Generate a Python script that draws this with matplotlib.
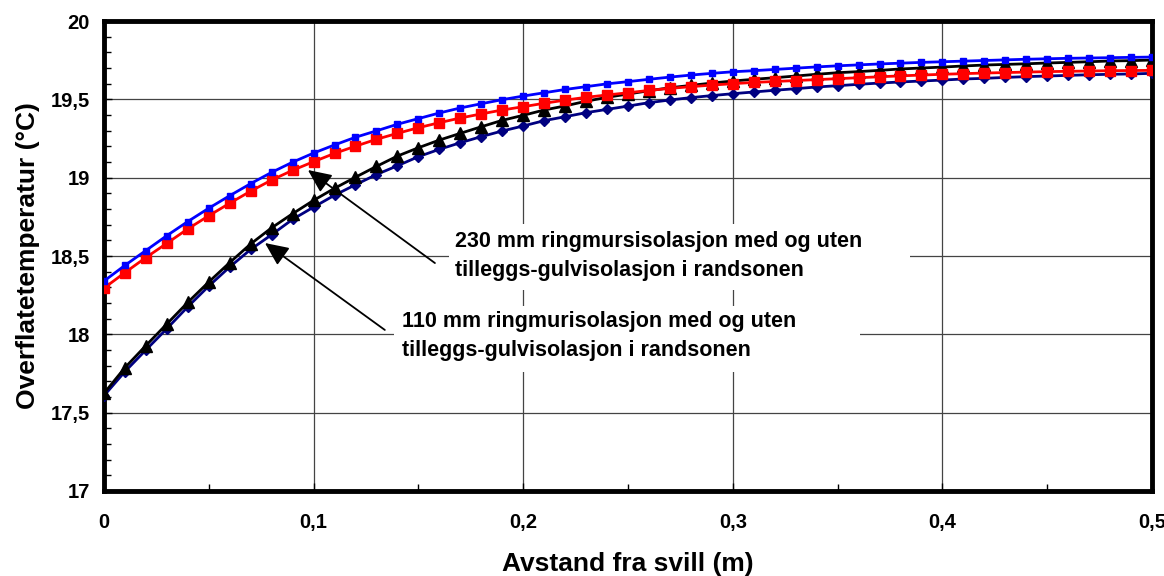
import matplotlib
matplotlib.use("Agg")
import matplotlib.pyplot as plt
from matplotlib.patches import Rectangle
from matplotlib.ticker import MultipleLocator, FuncFormatter

plt.rcParams['font.family'] = ['Liberation Sans', 'DejaVu Sans']
plt.rcParams['font.weight'] = 'bold'

# avstand fra svill (m)
x = [i / 100 for i in range(51)]

# 230 mm ringmur, uten tilleggsisolasjon (blå)
blue = [18.34, 18.44, 18.535, 18.63, 18.72, 18.805, 18.885, 18.962, 19.034, 19.099,
        19.157, 19.209, 19.258, 19.299, 19.341, 19.377, 19.413, 19.445, 19.472, 19.498,
        19.521, 19.542, 19.563, 19.581, 19.599, 19.613, 19.628, 19.642, 19.655, 19.666,
        19.676, 19.683, 19.691, 19.699, 19.707, 19.714, 19.720, 19.726, 19.731, 19.736,
        19.740, 19.744, 19.748, 19.752, 19.756, 19.759, 19.762, 19.764, 19.766, 19.768,
        19.770]

# 230 mm ringmur, med tilleggsisolasjon (rød)
red = [18.295, 18.394, 18.49, 18.581, 18.673, 18.757, 18.837, 18.914, 18.985, 19.047,
       19.102, 19.155, 19.201, 19.245, 19.283, 19.319, 19.351, 19.381, 19.407, 19.432,
       19.453, 19.475, 19.495, 19.513, 19.528, 19.542, 19.557, 19.570, 19.581, 19.591,
       19.600, 19.608, 19.614, 19.620, 19.626, 19.632, 19.638, 19.644, 19.650, 19.655,
       19.660, 19.664, 19.668, 19.671, 19.674, 19.677, 19.679, 19.681, 19.683, 19.684,
       19.685]

# 110 mm ringmur (svart)
black = [17.623, 17.787, 17.928, 18.066, 18.204, 18.334, 18.458, 18.577, 18.68, 18.77,
         18.855, 18.932, 19.003, 19.072, 19.138, 19.191, 19.240, 19.283, 19.325, 19.366,
         19.398, 19.432, 19.458, 19.488, 19.513, 19.534, 19.555, 19.574, 19.589, 19.604,
         19.617, 19.628, 19.638, 19.649, 19.660, 19.670, 19.677, 19.685, 19.694, 19.700,
         19.706, 19.713, 19.719, 19.723, 19.727, 19.732, 19.736, 19.740, 19.745, 19.747,
         19.751]

# 110 mm ringmur (mørkeblå)
navy = [17.608, 17.762, 17.900, 18.036, 18.176, 18.308, 18.430, 18.542, 18.636, 18.734,
        18.812, 18.888, 18.955, 19.020, 19.076, 19.134, 19.181, 19.223, 19.262, 19.298,
        19.330, 19.364, 19.389, 19.415, 19.436, 19.457, 19.479, 19.496, 19.511, 19.524,
        19.536, 19.547, 19.558, 19.568, 19.579, 19.587, 19.596, 19.604, 19.611, 19.617,
        19.623, 19.630, 19.634, 19.640, 19.645, 19.649, 19.653, 19.657, 19.660, 19.662,
        19.666]

label_230 = "230 mm ringmursisolasjon med og uten\ntilleggs-gulvisolasjon i randsonen"
label_110 = "110 mm ringmurisolasjon med og uten\ntilleggs-gulvisolasjon i randsonen"

fig = plt.figure(figsize=(11.64, 5.76), dpi=100)
ax = fig.add_axes([0.0893, 0.1476, 0.9004, 0.8159])

ax.plot(x, navy, color='#000080', lw=2, marker='D', ms=5.5, zorder=3)
ax.plot(x, black, color='black', lw=2, marker='^', ms=8, zorder=4)
ax.plot(x, red, color='red', lw=2, marker='s', ms=7, zorder=5)
ax.plot(x, blue, color='blue', lw=2, marker='s', ms=5, zorder=6)

ax.set_xlim(0, 0.5)
ax.set_ylim(17, 20)
ax.xaxis.set_major_locator(MultipleLocator(0.1))
ax.xaxis.set_minor_locator(MultipleLocator(0.05))
ax.yaxis.set_major_locator(MultipleLocator(0.5))
ax.yaxis.set_minor_locator(MultipleLocator(0.1))
fmt = FuncFormatter(lambda v, p: ('%g' % round(v, 2)).replace('.', ','))
ax.xaxis.set_major_formatter(fmt)
ax.yaxis.set_major_formatter(fmt)

ax.grid(True, which='major', color='#444444', lw=0.9, zorder=1)
ax.tick_params(which='both', direction='in', top=False, right=False)
ax.tick_params(which='major', length=6, width=1, labelsize=14.5, pad=10)
ax.tick_params(axis='x', which='major', pad=16)
ax.tick_params(which='minor', length=5, width=1)
for lab in ax.get_xticklabels() + ax.get_yticklabels():
    lab.set_fontweight('bold')
for s in ax.spines.values():
    s.set_linewidth(3.5)

ax.set_xlabel('Avstand fra svill (m)', fontsize=19, fontweight='bold', labelpad=14)
ax.set_ylabel('Overflatetemperatur (°C)', fontsize=19, fontweight='bold', labelpad=8)

# pilene
head = dict(arrowstyle='-|>,head_length=0.55,head_width=0.25', color='black',
            lw=1.3, mutation_scale=26, shrinkA=0, shrinkB=0)
ax.annotate('', xy=(0.0973, 19.049), xytext=(0.1579, 18.455), arrowprops=head, zorder=7)
ax.annotate('', xy=(0.0768, 18.583), xytext=(0.134, 18.028), arrowprops=head, zorder=7)

# hvite tekstbokser
ax.add_patch(Rectangle((0.1646, 18.283), 0.2199, 0.421, facecolor='white',
                       edgecolor='none', zorder=2))
ax.add_patch(Rectangle((0.1384, 17.76), 0.2223, 0.421, facecolor='white',
                       edgecolor='none', zorder=2))
ax.text(0.1675, 18.5, label_230, fontsize=15.5, fontweight='bold', linespacing=1.45,
        ha='left', va='center', zorder=8)
ax.text(0.1422, 17.989, label_110, fontsize=15.5, fontweight='bold', linespacing=1.45,
        ha='left', va='center', zorder=8)

fig.savefig('out.png', dpi=100)
